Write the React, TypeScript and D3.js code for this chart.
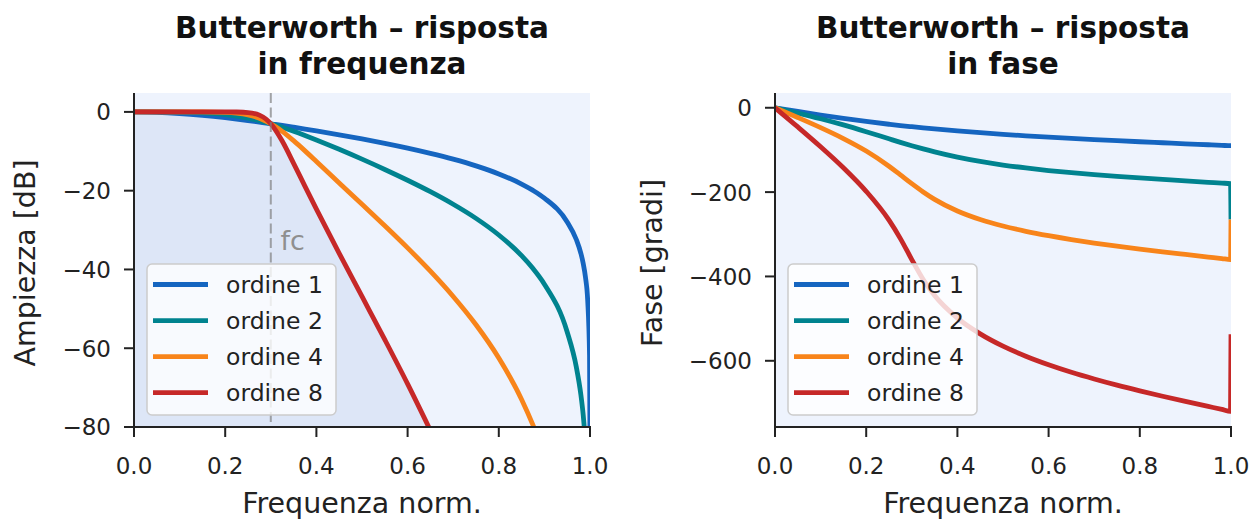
import React from "react";
import * as d3 from "d3";

// ---------- data ----------
const orders = ["ordine 1", "ordine 2", "ordine 4", "ordine 8"];
const colors = ["#1565c0", "#00838f", "#f8841a", "#c62828"];

// Magnitude [dB]
const magFreq1 = [0, 0.05, 0.1, 0.15, 0.2, 0.225, 0.25, 0.275, 0.29, 0.3, 0.31, 0.325, 0.35, 0.375, 0.4, 0.45, 0.5, 0.55, 0.6, 0.65, 0.7, 0.75, 0.8, 0.85, 0.875, 0.9, 0.95, 0.97, 0.98, 0.985, 0.99, 0.995, 0.999, 0.9999];
const mag1 = [0, -0.10, -0.40, -0.87, -1.48, -1.83, -2.20, -2.60, -2.85, -3.01, -3.18, -3.44, -3.89, -4.35, -4.82, -5.81, -6.86, -7.98, -9.19, -10.52, -12.0, -13.7, -15.74, -18.32, -19.93, -21.89, -27.94, -32.39, -35.91, -38.41, -41.93, -47.96, -61.93, -81.93];

const magFreq2 = [0, 0.05, 0.1, 0.15, 0.2, 0.225, 0.25, 0.275, 0.29, 0.3, 0.31, 0.325, 0.35, 0.375, 0.4, 0.45, 0.5, 0.55, 0.6, 0.65, 0.7, 0.75, 0.8, 0.85, 0.875, 0.9, 0.95, 0.97, 0.98, 0.985, 0.99];
const mag2 = [0, 0, -0.04, -0.21, -0.66, -1.06, -1.57, -2.23, -2.69, -3.01, -3.36, -3.90, -4.90, -5.98, -7.11, -9.49, -12.0, -14.61, -17.35, -20.26, -23.45, -27.03, -31.25, -36.5, -39.77, -43.73, -55.88, -64.77, -71.82, -76.82, -83.87];

const magFreq4 = [0, 0.05, 0.1, 0.15, 0.2, 0.225, 0.25, 0.275, 0.29, 0.3, 0.31, 0.325, 0.35, 0.375, 0.4, 0.45, 0.5, 0.55, 0.6, 0.65, 0.7, 0.75, 0.8, 0.85, 0.875, 0.88];
const mag4 = [0, 0, 0, -0.01, -0.12, -0.32, -0.76, -1.62, -2.39, -3.01, -3.73, -4.94, -7.31, -9.89, -12.58, -18.02, -23.45, -28.91, -34.53, -40.44, -46.86, -54.05, -62.49, -73.0, -79.54, -80.99];

const magFreq8 = [0, 0.05, 0.1, 0.15, 0.2, 0.225, 0.25, 0.275, 0.29, 0.3, 0.31, 0.325, 0.35, 0.375, 0.4, 0.45, 0.5, 0.55, 0.6, 0.65];
const mag8 = [0, 0, 0, 0, 0, -0.03, -0.16, -0.81, -1.86, -3.01, -4.55, -7.40, -13.05, -18.9, -24.68, -35.9, -46.86, -57.82, -69.06, -80.89];

// Phase [gradi]
const phaseFreq = [0, 0.05, 0.1, 0.15, 0.2, 0.25, 0.275, 0.3, 0.325, 0.35, 0.4, 0.45, 0.5, 0.55, 0.6, 0.65, 0.7, 0.75, 0.8, 0.85, 0.9, 0.95, 0.98, 0.999, 1.0];
const phase1 = [0, -8.8, -17.3, -25.2, -32.5, -39.1, -42.2, -45, -47.7, -50.3, -55.0, -59.2, -63.0, -66.5, -69.7, -72.7, -75.5, -78.1, -80.6, -83.0, -85.4, -87.7, -89.1, -90, -90];
const phase2 = [0, -12.6, -26.0, -40.6, -56.7, -73.6, -82.0, -90, -97.6, -104.7, -117.1, -127.4, -135.8, -142.8, -148.8, -153.9, -158.5, -162.7, -166.5, -170.0, -173.5, -176.8, -178.7, -180, -265];
const phase4 = [0, -23.2, -47.2, -73.1, -102.7, -138.7, -159.3, -180, -199.6, -217.2, -244.8, -265.0, -280.4, -292.9, -303.4, -312.6, -320.8, -328.2, -335.1, -341.7, -347.9, -354.0, -357.6, -360, -265];
const phase8 = [0, -45.5, -92.4, -142.3, -198.2, -266.5, -310.2, -360, -407.3, -445.3, -498.7, -536.1, -565.3, -589.1, -609.4, -627.2, -643.1, -657.7, -671.2, -684.0, -696.3, -708.2, -715.3, -720, -537];

const xTicks = [0, 0.2, 0.4, 0.6, 0.8, 1.0];
const magTicks = [0, -20, -40, -60, -80];
const phaseTicks = [0, -200, -400, -600];
const cutoff = 0.3;

// ---------- layout ----------
const W = 1254;
const H = 520;
const TOP = 93;
const BOTTOM = 427;
const FONT = "'DejaVu Sans', 'Liberation Sans', sans-serif";
const INK = "#222222";

const fmtTick = (v: number) => (v < 0 ? "\u2212" + Math.abs(v) : String(v));

type Series = { x: number[]; y: number[]; color: string; label: string };

function Panel(props: {
  id: string;
  x0: number;
  x1: number;
  yDomain: [number, number];
  yTicks: number[];
  series: Series[];
  title: [string, string];
  yLabel: string;
  yLabelX: number;
  magnitude: boolean;
}) {
  const { id, x0, x1, yDomain, yTicks, series, title, yLabel, yLabelX, magnitude } = props;
  const x = d3.scaleLinear().domain([0, 1]).range([x0, x1]);
  const y = d3.scaleLinear().domain(yDomain).range([BOTTOM, TOP]);
  const line = d3
    .line<[number, number]>()
    .x((d) => x(d[0]))
    .y((d) => y(d[1]))
    .curve(d3.curveMonotoneX);
  const cx = (x0 + x1) / 2;
  const cy = (TOP + BOTTOM) / 2;

  let fill: string | null = null;
  if (magnitude) {
    const s8 = series[3];
    const pts: [number, number][] = s8.x.map((v, i) => [v, s8.y[i]]);
    fill = d3
      .area<[number, number]>()
      .x((d) => x(d[0]))
      .y0(y(yDomain[0]))
      .y1((d) => y(d[1]))
      .curve(d3.curveMonotoneX)(pts);
  }

  const legX = x0 + 13;
  const legY = 264;
  const rowY = [284.5, 320.7, 356.7, 392.7];

  return (
    <g>
      <defs>
        <clipPath id={id}>
          <rect x={x0} y={TOP} width={x1 - x0} height={BOTTOM - TOP} />
        </clipPath>
      </defs>
      <rect x={x0} y={TOP} width={x1 - x0} height={BOTTOM - TOP} fill="#eef3fd" />
      <g clipPath={`url(#${id})`}>
        {fill && <path d={fill} fill="#dde6f7" />}
        {series.map((s, i) => (
          <path
            key={i}
            d={line(s.x.map((v, j) => [v, s.y[j]] as [number, number])) || ""}
            fill="none"
            stroke={s.color}
            strokeWidth={4.8}
            strokeLinejoin="round"
          />
        ))}
        {magnitude && (
          <line
            x1={x(cutoff)}
            x2={x(cutoff)}
            y1={TOP}
            y2={BOTTOM}
            stroke="#808080"
            strokeOpacity={0.7}
            strokeWidth={2}
            strokeDasharray="10,4.5"
          />
        )}
      </g>
      {magnitude && (
        <text x={x(0.321)} y={y(-35.1)} fontFamily={FONT} fontSize={27} fill="#8f8f8f">
          fc
        </text>
      )}
      {/* spines */}
      <line x1={x0} x2={x0} y1={TOP} y2={BOTTOM} stroke={INK} strokeWidth={2} />
      <line x1={x0 - 1} x2={x1 + 1} y1={BOTTOM} y2={BOTTOM} stroke={INK} strokeWidth={2} />
      {/* x ticks */}
      {xTicks.map((t) => (
        <g key={"x" + t}>
          <line x1={x(t)} x2={x(t)} y1={BOTTOM} y2={BOTTOM + 10} stroke={INK} strokeWidth={2} />
          <text x={x(t)} y={474} textAnchor="middle" fontFamily={FONT} fontSize={23} fill={INK}>
            {t.toFixed(1)}
          </text>
        </g>
      ))}
      {/* y ticks */}
      {yTicks.map((t) => (
        <g key={"y" + t}>
          <line x1={x0 - 10} x2={x0} y1={y(t)} y2={y(t)} stroke={INK} strokeWidth={2} />
          <text x={x0 - 23} y={y(t) + 8.4} textAnchor="end" fontFamily={FONT} fontSize={23} fill={INK}>
            {fmtTick(t)}
          </text>
        </g>
      ))}
      {/* labels */}
      <text x={cx} y={513} textAnchor="middle" fontFamily={FONT} fontSize={28.5} fill={INK}>
        Frequenza norm.
      </text>
      <text
        transform={`translate(${yLabelX},${cy + 3}) rotate(-90)`}
        textAnchor="middle"
        fontFamily={FONT}
        fontSize={28.5}
        fill={INK}
      >
        {yLabel}
      </text>
      <text x={cx} y={38} textAnchor="middle" fontFamily={FONT} fontSize={29.5} fontWeight="bold" fill="#111">
        {title[0]}
      </text>
      <text x={cx} y={74} textAnchor="middle" fontFamily={FONT} fontSize={29.5} fontWeight="bold" fill="#111">
        {title[1]}
      </text>
      {/* legend */}
      <rect
        x={legX}
        y={legY}
        width={189}
        height={151}
        rx={5}
        fill="#ffffff"
        fillOpacity={0.8}
        stroke="#cccccc"
        strokeWidth={1.5}
      />
      {series.map((s, i) => (
        <g key={"l" + i}>
          <line
            x1={x0 + 19}
            x2={x0 + 74}
            y1={rowY[i]}
            y2={rowY[i]}
            stroke={s.color}
            strokeWidth={4.8}
          />
          <text x={x0 + 92} y={rowY[i] + 8.4} fontFamily={FONT} fontSize={23.5} fill={INK}>
            {s.label}
          </text>
        </g>
      ))}
    </g>
  );
}

export default function App() {
  const magSeries: Series[] = [
    { x: magFreq1, y: mag1, color: colors[0], label: orders[0] },
    { x: magFreq2, y: mag2, color: colors[1], label: orders[1] },
    { x: magFreq4, y: mag4, color: colors[2], label: orders[2] },
    { x: magFreq8, y: mag8, color: colors[3], label: orders[3] },
  ];
  const phaseSeries: Series[] = [
    { x: phaseFreq, y: phase1, color: colors[0], label: orders[0] },
    { x: phaseFreq, y: phase2, color: colors[1], label: orders[1] },
    { x: phaseFreq, y: phase4, color: colors[2], label: orders[2] },
    { x: phaseFreq, y: phase8, color: colors[3], label: orders[3] },
  ];
  return (
    <svg
      width={W}
      height={H}
      viewBox={`0 0 ${W} ${H}`}
      style={{ position: "absolute", left: 0, top: 0, background: "#ffffff" }}
    >
      <rect x={0} y={0} width={W} height={H} fill="#ffffff" />
      <Panel
        id="clipMag"
        x0={134}
        x1={590}
        yDomain={[-80, 4.8]}
        yTicks={magTicks}
        series={magSeries}
        title={["Butterworth \u2013 risposta", "in frequenza"]}
        yLabel="Ampiezza [dB]"
        yLabelX={35}
        magnitude={true}
      />
      <Panel
        id="clipPhase"
        x0={775}
        x1={1231}
        yDomain={[-757, 35]}
        yTicks={phaseTicks}
        series={phaseSeries}
        title={["Butterworth \u2013 risposta", "in fase"]}
        yLabel="Fase [gradi]"
        yLabelX={662}
        magnitude={false}
      />
    </svg>
  );
}
